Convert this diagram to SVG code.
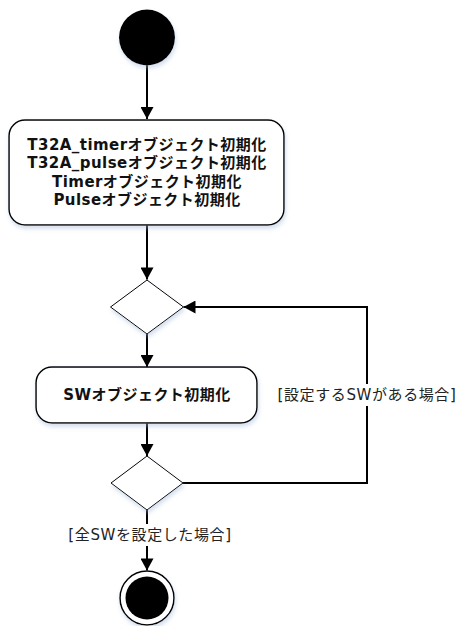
<svg xmlns="http://www.w3.org/2000/svg" width="459" height="626" viewBox="0 0 459 626">
<defs>
<marker id="arr" markerWidth="13" markerHeight="13" viewBox="0 0 12 13" refX="12" refY="6.5" orient="auto" markerUnits="userSpaceOnUse">
<path d="M0,0 L12,6.5 L0,13 Z" fill="#000"/>
</marker>
<filter id="sh" x="-20%" y="-20%" width="140%" height="150%">
<feDropShadow dx="1" dy="3" stdDeviation="2" flood-color="#9fb6d6" flood-opacity="0.45"/>
</filter>
<style>
.act{fill:#fff;stroke:#000;stroke-width:1.5;filter:url(#sh)}
.dec{fill:#fff;stroke:#000;stroke-width:1;filter:url(#sh)}
.bt{font-family:"DejaVu Sans","Noto Sans CJK JP",sans-serif;font-weight:bold;font-size:15px;letter-spacing:0.45px;text-anchor:middle;dominant-baseline:central;fill:#111}
.lb{font-family:"DejaVu Sans","Noto Sans CJK JP",sans-serif;font-size:15px;letter-spacing:0.6px;text-anchor:middle;dominant-baseline:central;fill:#222}
.ln{fill:none;stroke:#000;stroke-width:2}
</style>
</defs>
<g id="connectors">
<path class="ln" d="M147,65 V119" marker-end="url(#arr)"/>
<path class="ln" d="M147,225 V279.5" marker-end="url(#arr)"/>
<path class="ln" d="M147,334 V367" marker-end="url(#arr)"/>
<path class="ln" d="M147,423 V456" marker-end="url(#arr)"/>
<path class="ln" d="M183,483 H367 V307 H183.5" marker-end="url(#arr)"/>
<path class="ln" d="M147,510 V570.5" marker-end="url(#arr)"/>
<rect x="277" y="384" width="180" height="22" fill="#fff"/>
<text class="lb" x="367" y="395">[設定するSWがある場合]</text>
<rect x="61" y="524" width="178" height="22" fill="#fff"/>
<text class="lb" x="150" y="535">[全SWを設定した場合]</text>
</g>
<g id="start">
<circle cx="147" cy="37.5" r="28" fill="#000" filter="url(#sh)"/>
</g>
<g id="init1">
<rect class="act" x="9" y="120" width="275" height="105" rx="16"/>
<text class="bt" x="147" y="144.5">T32A_timerオブジェクト初期化</text>
<text class="bt" x="147" y="163">T32A_pulseオブジェクト初期化</text>
<text class="bt" x="147" y="181.5">Timerオブジェクト初期化</text>
<text class="bt" x="147" y="200">Pulseオブジェクト初期化</text>
</g>
<g id="merge">
<polygon class="dec" points="147,280 183.5,307 147,334 110.5,307"/>
</g>
<g id="init2">
<rect class="act" x="36" y="367" width="221" height="56" rx="16"/>
<text class="bt" x="147" y="395">SWオブジェクト初期化</text>
</g>
<g id="decision">
<polygon class="dec" points="147,456 183,483 147,510 111,483"/>
</g>
<g id="end">
<circle cx="147" cy="598" r="27" fill="#fff" stroke="#000" stroke-width="1.5" filter="url(#sh)"/>
<circle cx="147" cy="598" r="21.5" fill="#000"/>
</g>
</svg>
